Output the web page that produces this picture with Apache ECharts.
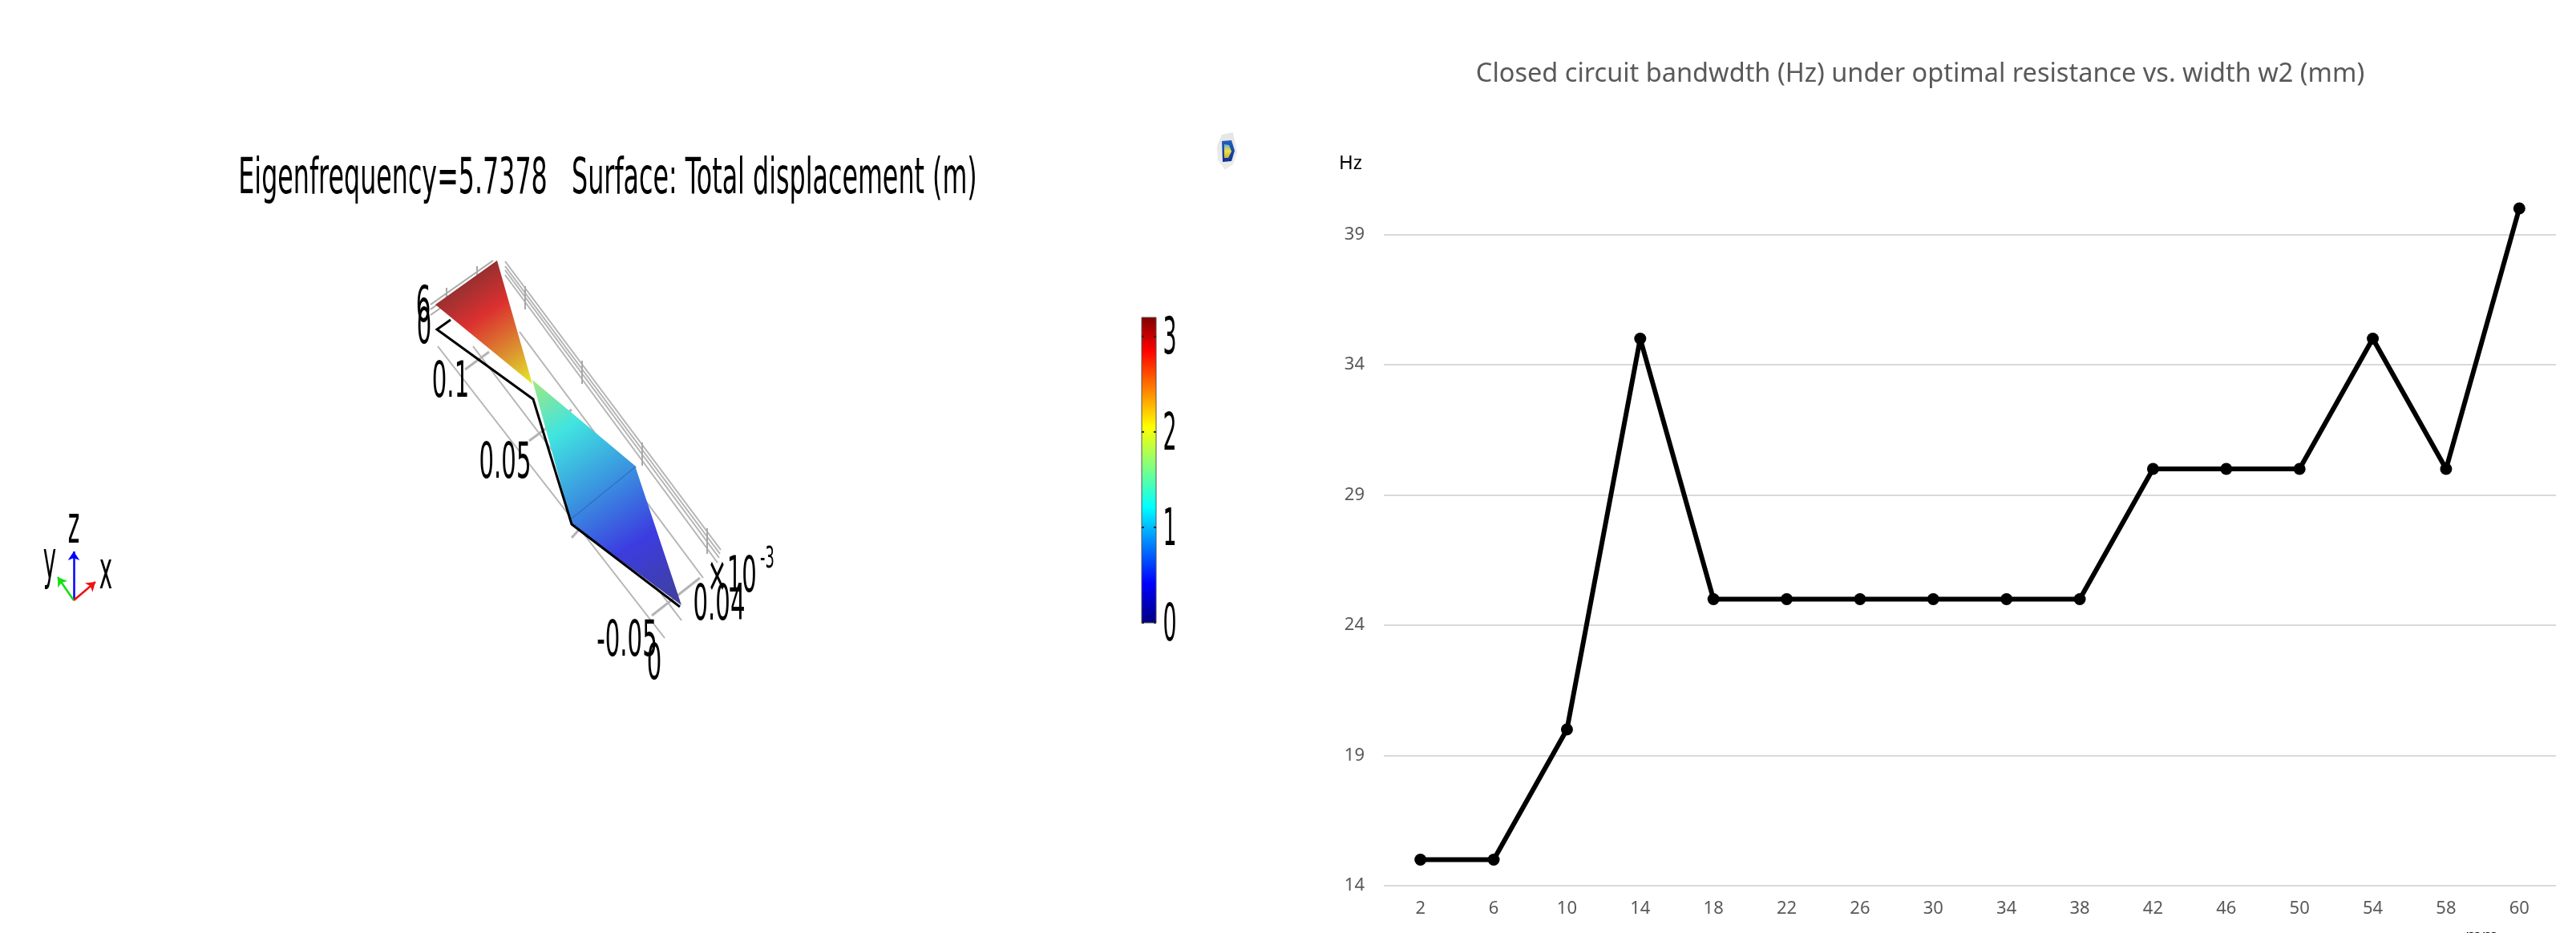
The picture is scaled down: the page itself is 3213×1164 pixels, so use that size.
<!DOCTYPE html>
<html>
<head>
<meta charset="utf-8">
<title>Eigenfrequency surface and closed circuit bandwidth</title>
<script src="https://cdn.jsdelivr.net/npm/echarts@6/dist/echarts.min.js"></script>
<style>
  html, body { margin: 0; padding: 0; background: #fff; }
  #main { width: 3213px; height: 1164px; }
</style>
</head>
<body>
<div id="main"></div>
<script>
// right chart
const widths = ["2", "6", "10", "14", "18", "22", "26", "30", "34", "38", "42", "46", "50", "54", "58", "60"];
const bandwidth = [15, 15, 20, 35, 25, 25, 25, 25, 25, 25, 30, 30, 30, 35, 30, 40];
const hzTicks = [14, 19, 24, 29, 34, 39];

// colour bar of the left plot
const barTicks = [0, 1, 2, 3];
const barMax = 3.2;

// left plot
const surfaceTop = [[620, 325], [543, 380], [664, 479]];
const surfaceBottom = [[664, 474], [792, 581], [850, 755], [713, 654]];
const surfaceTopAxis = [[573, 346], [664, 479]];
const surfaceBottomAxis = [[664, 474], [847, 754]];
const outline = [[562, 399], [545, 411], [665, 498], [713, 654], [848, 757]];
const gridLong = [
  [[630, 326], [899, 686]], [[630, 332], [898, 691]], [[630, 337], [897, 696]], [[630, 343], [895, 702]],
  [[648, 414], [877, 721]], [[590, 432], [850, 774]], [[546, 432], [829, 796]]
];
const gridCross = [
  [[580, 461], [610, 439]], [[660, 550], [713, 511]],
  [[713, 671], [793, 582]], [[813, 768], [873, 721]]
];
const gridTop = [
  [[537, 380], [615, 325]], [[537, 386], [615, 331]], [[537, 393], [560, 377]],
  [[557, 359], [557, 373]], [[595, 332], [595, 343]], [[655, 357], [655, 386]],
  [[726, 450], [726, 479]], [[801, 552], [801, 581]], [[882, 659], [882, 691]]
];
const gridThrough = [[[713, 647], [793, 582]]];
const triad = [
  { to: [92, 688], color: "#0000ff" },
  { to: [72, 720], color: "#10e010" },
  { to: [119, 726], color: "#f01010" }
];
const triadOrigin = [92, 749];
const plotLabels = [
  { text: "Eigenfrequency=5.7378   Surface: Total displacement (m)", at: [758, 225] },
  { text: "6", at: [528, 385] },
  { text: "0", at: [529, 412] },
  { text: "0.1", at: [562, 479] },
  { text: "0.05", at: [630, 580] },
  { text: "-0.05", at: [782, 802] },
  { text: "0", at: [816, 831] },
  { text: "0.04", at: [897, 757] },
  { text: "\u00d710", at: [913, 722] },
  { text: "-3", at: [957, 698] },
  { text: "z", at: [92, 660] },
  { text: "y", at: [62, 704] },
  { text: "x", at: [132, 717] }
];
const plotLabelSizes = [62, 62, 62, 62, 62, 62, 62, 62, 62, 38, 66, 66, 66];
const plotLabelSqueeze = [0.512, 0.47, 0.47, 0.47, 0.47, 0.47, 0.47, 0.47, 0.47, 0.47, 0.42, 0.42, 0.42];

// the small logo next to the plot
const iconBack = [[1524, 168], [1538, 165], [1543, 190], [1538, 205], [1528, 212], [1519, 200], [1518, 182]];
const iconBlue = [[1524, 176], [1536, 175], [1540, 188], [1536, 201], [1525, 202]];
const iconYellow = [[1527, 180], [1533, 181], [1536, 189], [1532, 197], [1527, 197]];

const plotFont = "DejaVu Sans";

function segmentsOption(list, color, width, z) {
  return {
    type: "lines",
    coordinateSystem: "cartesian2d",
    xAxisIndex: 1,
    yAxisIndex: 1,
    polyline: false,
    silent: true,
    z: z,
    lineStyle: { color: color, width: width, opacity: 1 },
    data: list.map((s) => ({ coords: s }))
  };
}

function polygonOption(points, axis, stops) {
  return {
    type: "custom",
    xAxisIndex: 1,
    yAxisIndex: 1,
    silent: true,
    z: 4,
    data: points,
    renderItem: (params, api) => {
      if (params.dataIndex > 0) return null;
      const a = api.coord(axis[0]);
      const b = api.coord(axis[1]);
      return {
        type: "polygon",
        shape: { points: points.map((p) => api.coord(p)) },
        style: { fill: new echarts.graphic.LinearGradient(a[0], a[1], b[0], b[1], stops, true) }
      };
    }
  };
}

const myChart = echarts.init(document.getElementById("main"));
const option = {
  backgroundColor: "#ffffff",
  animation: false,
  title: [
    {
      text: "Closed circuit bandwdth (Hz) under optimal resistance vs. width w2 (mm)",
      left: 2390,
      top: 71,
      textAlign: "center",
      textStyle: { fontFamily: "Noto Sans", fontWeight: "normal", fontSize: 32.5, color: "#595959" }
    },
    {
      text: "mm",
      left: 3070,
      top: 1153,
      textStyle: { fontFamily: "Noto Sans", fontWeight: "normal", fontSize: 22, color: "#000" }
    }
  ],
  grid: [
    { left: 1726, top: 260, width: 1462, height: 845 },
    { left: 0, top: 0, width: 1600, height: 1164 },
    { left: 1424, top: 396, width: 18, height: 381 }
  ],
  xAxis: [
    {
      type: "category",
      data: widths,
      axisLine: { show: false },
      axisTick: { show: false },
      axisLabel: { interval: 0, margin: 18, color: "#595959", fontFamily: "Noto Sans", fontSize: 22 }
    },
    { gridIndex: 1, type: "value", min: 0, max: 1600, show: false },
    { gridIndex: 2, type: "value", min: 0, max: 1, show: false }
  ],
  yAxis: [
    {
      type: "value",
      min: 14,
      max: 40,
      name: "Hz",
      nameLocation: "end",
      nameGap: 44,
      nameTextStyle: { color: "#000", fontFamily: "Noto Sans", fontSize: 24, align: "right", padding: [0, 27, 0, 0] },
      axisLine: { show: false },
      axisTick: { show: false, customValues: hzTicks },
      axisLabel: { customValues: hzTicks, margin: 24, color: "#595959", fontFamily: "Noto Sans", fontSize: 22 },
      splitLine: { show: true, lineStyle: { color: "#d9d9d9", width: 2 } }
    },
    { gridIndex: 1, type: "value", min: 0, max: 1164, inverse: true, show: false },
    { gridIndex: 2, type: "value", min: 0, max: barMax, show: false }
  ],
  series: [
    {
      type: "line",
      name: "bandwidth",
      data: bandwidth,
      clip: false,
      symbol: "circle",
      symbolSize: 15,
      itemStyle: { color: "#000" },
      lineStyle: { color: "#000", width: 6 }
    },
    segmentsOption(gridLong, "#b4b4b4", 2, 1),
    segmentsOption(gridCross, "#b4b4b4", 3, 1),
    segmentsOption(gridTop, "#a8a8a8", 2, 1),
    polygonOption(surfaceTop, surfaceTopAxis, [
      { offset: 0, color: "#8a3030" },
      { offset: 0.35, color: "#dc3030" },
      { offset: 0.7, color: "#dc9030" },
      { offset: 1, color: "#e4ec28" }
    ]),
    polygonOption(surfaceBottom, surfaceBottomAxis, [
      { offset: 0, color: "#a0e880" },
      { offset: 0.22, color: "#40e4e0" },
      { offset: 0.48, color: "#3a90e0" },
      { offset: 0.72, color: "#3c3ce0" },
      { offset: 1, color: "#40409a" }
    ]),
    segmentsOption(gridThrough, "rgba(40,80,160,0.45)", 1.5, 5),
    polygonOption(iconBack, [[1520, 165], [1520, 212]], [
      { offset: 0, color: "#e6e6e6" },
      { offset: 1, color: "#ececec" }
    ]),
    polygonOption(iconBlue, [[1524, 175], [1524, 202]], [
      { offset: 0, color: "#2060c0" },
      { offset: 1, color: "#103090" }
    ]),
    polygonOption(iconYellow, [[1527, 180], [1527, 197]], [
      { offset: 0, color: "#70b0d0" },
      { offset: 0.5, color: "#f0e040" },
      { offset: 1, color: "#d0b040" }
    ]),
    {
      type: "lines",
      coordinateSystem: "cartesian2d",
      xAxisIndex: 1,
      yAxisIndex: 1,
      polyline: true,
      silent: true,
      z: 5,
      lineStyle: { color: "#000", width: 3, opacity: 1 },
      data: [{ coords: outline }]
    },
    {
      type: "lines",
      coordinateSystem: "cartesian2d",
      xAxisIndex: 1,
      yAxisIndex: 1,
      silent: true,
      z: 5,
      symbol: ["none", "arrow"],
      symbolSize: 11,
      data: triad.map((t) => ({
        coords: [triadOrigin, t.to],
        lineStyle: { color: t.color, width: 2.5, opacity: 1 }
      }))
    },
    {
      // text of the left plot, squeezed like the exported figure
      type: "custom",
      xAxisIndex: 1,
      yAxisIndex: 1,
      silent: true,
      z: 6,
      data: plotLabels.map((l) => l.at),
      renderItem: (params, api) => {
        const l = plotLabels[params.dataIndex];
        const p = api.coord(l.at);
        return {
          type: "text",
          x: p[0],
          y: p[1],
          scaleX: plotLabelSqueeze[params.dataIndex],
          style: {
            text: l.text,
            align: "center",
            verticalAlign: "middle",
            fontFamily: plotFont,
            fontSize: plotLabelSizes[params.dataIndex],
            fill: "#000"
          }
        };
      }
    },
    {
      // colour bar
      type: "custom",
      xAxisIndex: 2,
      yAxisIndex: 2,
      silent: true,
      z: 4,
      data: [barMax].concat(barTicks),
      renderItem: (params, api) => {
        const i = params.dataIndex;
        if (i === 0) {
          const a = api.coord([0, 0]);
          const b = api.coord([1, barMax]);
          return {
            type: "rect",
            shape: { x: a[0], y: b[1], width: b[0] - a[0], height: a[1] - b[1] },
            style: {
              stroke: "#555",
              lineWidth: 1,
              fill: new echarts.graphic.LinearGradient(0, 0, 0, 1, [
                { offset: 0, color: "#800000" },
                { offset: 0.11, color: "#ff0000" },
                { offset: 0.36, color: "#ffff00" },
                { offset: 0.62, color: "#00ffff" },
                { offset: 0.87, color: "#0000ff" },
                { offset: 1, color: "#000080" }
              ])
            }
          };
        }
        const v = barTicks[i - 1];
        const left = api.coord([0, v]);
        const right = api.coord([1, v]);
        return {
          type: "group",
          children: [
            { type: "rect", shape: { x: left[0], y: left[1] - 1, width: 3, height: 2 }, style: { fill: "#222" } },
            { type: "rect", shape: { x: right[0] - 3, y: right[1] - 1, width: 3, height: 2 }, style: { fill: "#222" } },
            {
              type: "text",
              x: right[0] + 17,
              y: left[1] + 5,
              scaleX: 0.42,
              style: { text: String(v), align: "center", verticalAlign: "middle", fontFamily: plotFont, fontSize: 64, fill: "#000" }
            }
          ]
        };
      }
    }
  ]
};
option && myChart.setOption(option);
</script>
</body>
</html>
